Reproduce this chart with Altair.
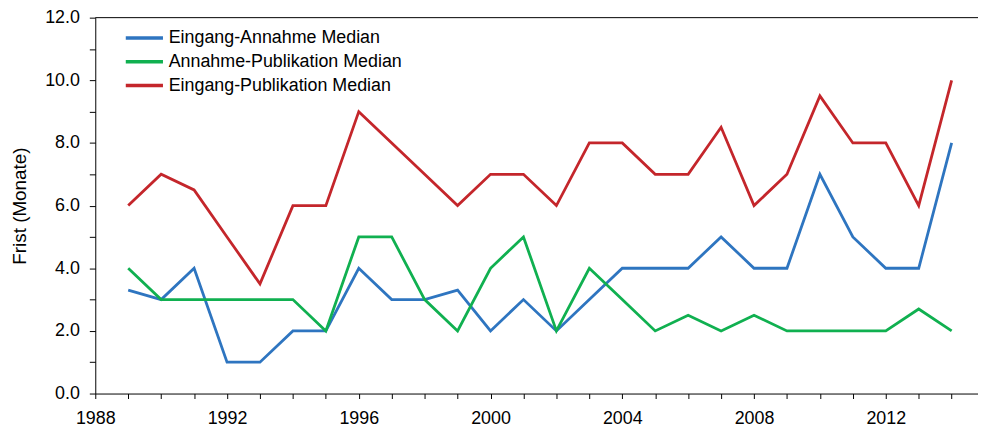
import altair as alt
import pandas as pd

years = list(range(1989, 2015))
series_names = ["Eingang-Annahme Median", "Annahme-Publikation Median", "Eingang-Publikation Median"]
eingang_annahme = [3.3, 3.0, 4.0, 1.0, 1.0, 2.0, 2.0, 4.0, 3.0, 3.0, 3.3, 2.0, 3.0, 2.0, 3.0, 4.0, 4.0, 4.0, 5.0, 4.0, 4.0, 7.0, 5.0, 4.0, 4.0, 8.0]
annahme_publikation = [4.0, 3.0, 3.0, 3.0, 3.0, 3.0, 2.0, 5.0, 5.0, 3.0, 2.0, 4.0, 5.0, 2.0, 4.0, 3.0, 2.0, 2.5, 2.0, 2.5, 2.0, 2.0, 2.0, 2.0, 2.7, 2.0]
eingang_publikation = [6.0, 7.0, 6.5, 5.0, 3.5, 6.0, 6.0, 9.0, 8.0, 7.0, 6.0, 7.0, 7.0, 6.0, 8.0, 8.0, 7.0, 7.0, 8.5, 6.0, 7.0, 9.5, 8.0, 8.0, 6.0, 10.0]
colors = ["#2E75C0", "#10B050", "#C4262B"]
x_ticks = list(range(1988, 2015))
y_ticks = list(range(0, 13))

rows = []
for name, vals in zip(series_names, [eingang_annahme, annahme_publikation, eingang_publikation]):
    for yr, v in zip(years, vals):
        rows.append({"Jahr": yr, "Wert": v, "Serie": name})
df = pd.DataFrame(rows)

W, H = 890, 379
FONT = "Liberation Sans"

lines = alt.Chart(df).mark_line(strokeWidth=2.8).encode(
    x=alt.X("Jahr:Q",
            scale=alt.Scale(domain=[1988, 2014.8], nice=False, zero=False),
            axis=alt.Axis(values=x_ticks, title=None, grid=False,
                          labelExpr="datum.value % 4 == 0 ? toString(datum.value) : ''",
                          tickSize=5, tickColor="black", domainColor="black",
                          labelPadding=11, labelFontSize=18, labelFont=FONT,
                          labelColor="black", labelFlush=False)),
    y=alt.Y("Wert:Q",
            scale=alt.Scale(domain=[0, 12], nice=False),
            axis=alt.Axis(values=y_ticks, title="Frist (Monate)", grid=False,
                          labelExpr="datum.value % 2 == 0 ? format(datum.value, '.1f') : ''",
                          tickSize=6, tickColor="black", domainColor="black",
                          labelPadding=10, labelFontSize=18, labelFont=FONT,
                          labelColor="black", titleFontSize=19, titleFont=FONT,
                          titleFontWeight="normal", titleColor="black",
                          titlePadding=15)),
    color=alt.Color("Serie:N",
                    scale=alt.Scale(domain=series_names, range=colors),
                    sort=series_names,
                    legend=alt.Legend(title=None, orient="none", legendX=35, legendY=6,
                                      symbolType="M-1.5,0L1.5,0", symbolSize=625,
                                      symbolStrokeWidth=3.5, labelFontSize=18,
                                      labelFont=FONT, labelColor="black",
                                      labelOffset=10, rowPadding=0, padding=0,
                                      labelLimit=400)),
    detail="Serie:N",
)

top_border = alt.Chart(pd.DataFrame({"a": [0]})).mark_rule(color="black", strokeWidth=1).encode(
    x=alt.value(0), x2=alt.value(W), y=alt.value(0)
)

chart = alt.layer(lines, top_border).properties(
    width=W, height=H,
    autosize=alt.AutoSizeParams(type="none"),
    padding={"left": 88, "top": 8, "right": 0, "bottom": 32},
    background="white",
).configure_view(stroke=None)

chart.save("out.html", embed_options={"renderer": "svg", "actions": False})
